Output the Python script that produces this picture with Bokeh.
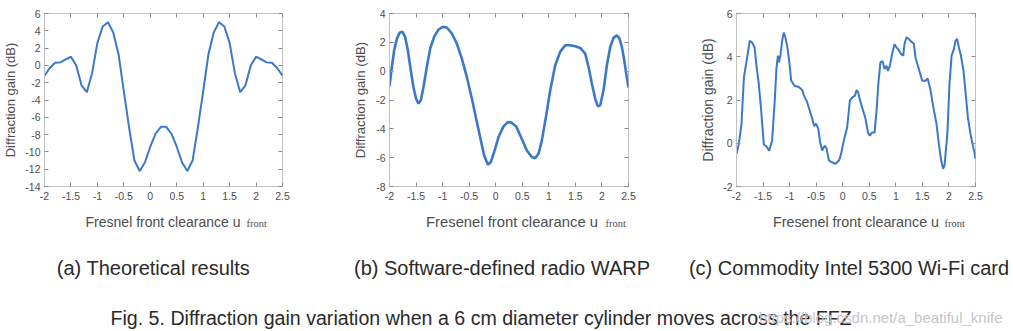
from bokeh.plotting import figure
from bokeh.models import Range1d, FixedTicker, LinearAxis, Label
from bokeh.layouts import column, row
from bokeh.embed import file_html
from bokeh.resources import INLINE

# ---------------- data ----------------
# (a) theoretical results
u_theory = [-2.0, -1.9, -1.8, -1.7, -1.6, -1.5, -1.4, -1.3, -1.2, -1.1, -1.0,
            -0.9, -0.8, -0.7, -0.6, -0.5, -0.4, -0.3, -0.2, -0.1, 0.0,
            0.1, 0.2, 0.3, 0.4, 0.5, 0.6, 0.7, 0.8, 0.9, 1.0,
            1.1, 1.2, 1.3, 1.4, 1.5, 1.6, 1.7, 1.8, 1.9, 2.0,
            2.1, 2.2, 2.3, 2.4, 2.5]
gain_theory = [-1.2, -0.3, 0.3, 0.35, 0.7, 1.0, 0.0, -2.3, -3.1, -0.9, 2.6,
               4.5, 5.0, 3.8, 1.3, -3.0, -7.2, -11.0, -12.2, -11.2, -9.4,
               -7.9, -7.1, -7.1, -7.9, -9.4, -11.2, -12.2, -11.0, -7.2, -3.0,
               1.3, 3.8, 5.0, 4.5, 2.6, -0.9, -3.1, -2.3, 0.0, 1.0,
               0.7, 0.35, 0.3, -0.3, -1.2]

# (b) software-defined radio WARP
u_warp = [-2.0, -1.956, -1.912, -1.86, -1.81, -1.755, -1.705, -1.655, -1.6, -1.55,
          -1.5, -1.454, -1.41, -1.36, -1.297, -1.234, -1.16, -1.077, -0.996, -0.92,
          -0.826, -0.732, -0.638, -0.544, -0.45, -0.355, -0.28, -0.217, -0.148, -0.092,
          -0.029, 0.053, 0.147, 0.229, 0.30, 0.385, 0.49, 0.586, 0.68, 0.743,
          0.806, 0.869, 0.95, 1.026, 1.12, 1.214, 1.308, 1.402, 1.497, 1.59,
          1.685, 1.748, 1.81, 1.873, 1.923, 1.967, 2.03, 2.093, 2.156, 2.218,
          2.28, 2.33, 2.375, 2.42, 2.457, 2.5]
gain_warp = [-1.05, 0.29, 1.45, 2.26, 2.66, 2.73, 2.38, 1.45, 0.06, -1.1,
             -1.9, -2.25, -2.02, -1.1, 0.29, 1.57, 2.38, 2.89, 3.07, 3.03,
             2.61, 1.91, 0.87, -0.4, -1.9, -3.53, -4.8, -5.85, -6.49, -6.3,
             -5.6, -4.57, -3.83, -3.53, -3.57, -3.83, -4.69, -5.5, -5.96, -6.03,
             -5.73, -4.8, -3.07, -1.33, 0.41, 1.34, 1.8, 1.8, 1.73, 1.61,
             1.22, 0.29, -0.86, -1.9, -2.44, -2.37, -1.33, 0.41, 1.68, 2.31,
             2.49, 2.26, 1.68, 0.76, -0.17, -1.14]

# (c) commodity Intel 5300 Wi-Fi card
u_intel = [-2.0, -1.956, -1.906, -1.86, -1.80, -1.75, -1.705, -1.66, -1.62, -1.58,
           -1.535, -1.485, -1.435, -1.385, -1.33, -1.28, -1.247, -1.22, -1.20, -1.17,
           -1.14, -1.11, -1.08, -1.046, -1.008, -0.97, -0.91, -0.826, -0.76, -0.73,
           -0.67, -0.62, -0.575, -0.54, -0.50, -0.46, -0.43, -0.387, -0.34, -0.305,
           -0.26, -0.2, -0.136, -0.07, -0.03, 0.02, 0.084, 0.134, 0.18, 0.23,
           0.26, 0.29, 0.335, 0.385, 0.43, 0.475, 0.51, 0.555, 0.6, 0.637,
           0.67, 0.71, 0.75, 0.787, 0.825, 0.85, 0.887, 0.93, 0.975, 1.013,
           1.057, 1.1, 1.14, 1.163, 1.2, 1.245, 1.29, 1.34, 1.37, 1.415,
           1.45, 1.497, 1.56, 1.6, 1.65, 1.685, 1.73, 1.766, 1.81, 1.854,
           1.89, 1.917, 1.97, 2.01, 2.05, 2.093, 2.124, 2.155, 2.187, 2.22,
           2.27, 2.31, 2.356, 2.406, 2.456, 2.48, 2.5]
gain_intel = [-0.49, -0.03, 0.89, 3.05, 3.97, 4.74, 4.66, 4.43, 3.5, 2.74,
              1.5, -0.06, -0.15, -0.35, 0.12, 1.97, 3.5, 4.05, 3.74, 4.12,
              4.74, 5.12, 4.9, 4.5, 3.8, 2.9, 2.66, 2.6, 2.45, 2.2,
              1.9, 1.5, 1.15, 0.8, 0.9, 0.66, 0.12, -0.34, -0.11, -0.23,
              -0.8, -0.88, -0.95, -0.8, -0.49, 0.12, 0.74, 1.97, 2.12, 2.2,
              2.46, 2.35, 1.9, 1.5, 1.12, 0.5, 0.35, 0.5, 0.5, 1.5,
              2.74, 3.74, 3.8, 3.43, 3.58, 3.35, 3.58, 4.12, 4.58, 4.43,
              4.3, 4.12, 4.05, 4.58, 4.9, 4.82, 4.7, 4.6, 3.97, 3.58,
              3.28, 2.89, 2.89, 3.0, 2.5, 1.97, 1.35, 0.9, -0.03, -0.8,
              -1.18, -1.03, 0.43, 2.74, 4.05, 4.35, 4.74, 4.82, 4.43, 4.12,
              3.43, 2.43, 1.2, 0.43, -0.18, -0.42, -0.72]

xtick_values = [-2, -1.5, -1, -0.5, 0, 0.5, 1, 1.5, 2, 2.5]
xtick_labels = ["-2", "-1.5", "-1", "-0.5", "0", "0.5", "1", "1.5", "2", "2.5"]
ytick_values_a = [-14, -12, -10, -8, -6, -4, -2, 0, 2, 4, 6]
ytick_labels_a = ["-14", "-12", "-10", "-8", "-6", "-4", "-2", "0", "2", "4", "6"]
ytick_values_b = [-8, -6, -4, -2, 0, 2, 4]
ytick_labels_b = ["-8", "-6", "-4", "-2", "0", "2", "4"]
ytick_values_c = [-2, 0, 2, 4, 6]
ytick_labels_c = ["-2", "0", "2", "4", "6"]

y_title = "Diffraction gain (dB)"
x_titles = ["Fresnel front clearance u", "Fresenel front clearance u",
            "Fresenel front clearance u"]
x_sub = "front"
captions = ["(a) Theoretical results", "(b) Software-defined radio WARP",
            "(c) Commodity Intel 5300 Wi-Fi card"]
fig_caption = "Fig. 5.  Diffraction gain variation when a 6 cm diameter cylinder moves across the FFZ"
watermark = "https://blog.csdn.net/a_beatiful_knife"

# ---------------- style ----------------
LINE = "#3b78c8"
TXT = "#4d4d4d"
BOX = "#c2c2c2"
FONT = "Liberation Sans"
TOP_H = 206


def panel(xs, ys, ylo, yhi, ytv, ytl, width, bl, br, lw, ylab_off, ylab_size):
    p = figure(width=width, height=TOP_H, x_range=Range1d(-2, 2.5),
               y_range=Range1d(ylo, yhi), min_border_left=bl, min_border_right=br,
               min_border_top=13, min_border_bottom=20,
               output_backend="svg", toolbar_location=None)
    p.grid.grid_line_color = None
    p.outline_line_color = BOX
    p.outline_line_width = 1
    p.background_fill_color = "white"
    p.border_fill_color = "white"
    p.line(xs, ys, line_color=LINE, line_width=lw)

    xa = p.xaxis[0]
    xa.ticker = FixedTicker(ticks=xtick_values)
    xa.major_label_overrides = dict(zip(xtick_values, xtick_labels))
    ya = p.yaxis[0]
    ya.ticker = FixedTicker(ticks=ytv)
    ya.major_label_overrides = dict(zip(ytv, ytl))
    for ax in (xa, ya):
        ax.axis_line_color = BOX
        ax.major_tick_line_color = "#8a8a8a"
        ax.major_tick_in = 4
        ax.major_tick_out = 0
        ax.minor_tick_line_color = None
        ax.major_label_text_font = FONT
        ax.major_label_text_font_size = "10.5px"
        ax.major_label_text_color = TXT
        ax.major_label_standoff = 4
        ax.axis_label_text_font = FONT
        ax.axis_label_text_font_style = "normal"
        ax.axis_label_text_color = TXT
    xa.major_label_standoff = 5
    ya.axis_label = y_title
    ya.axis_label_text_font_size = ylab_size
    ya.axis_label_standoff = ylab_off

    # box ticks on the top and right edges (no labels)
    for loc, tv in (("above", xtick_values), ("right", ytv)):
        ax = LinearAxis(ticker=FixedTicker(ticks=tv))
        ax.axis_line_color = None
        ax.major_tick_line_color = "#8a8a8a"
        ax.major_tick_in = 4
        ax.major_tick_out = 0
        ax.minor_tick_line_color = None
        ax.major_label_text_color = None
        ax.major_label_text_font_size = "1px"
        ax.major_label_standoff = 0
        p.add_layout(ax, loc)
    return p


p1 = panel(u_theory, gain_theory, -14, 6, ytick_values_a, ytick_labels_a,
           340, 43, 58, 2.0, 4, "13px")
p2 = panel(u_warp, gain_warp, -8, 4, ytick_values_b, ytick_labels_b,
           340, 49, 52, 2.6, 5, "13.2px")
p3 = panel(u_intel, gain_intel, -2, 6, ytick_values_c, ytick_labels_c,
           333, 56, 38, 2.0, 4, "14px")

# lower strip: x-axis titles (with subscript), sub-captions and figure caption
pc = figure(width=1013, height=331 - TOP_H, x_range=Range1d(0, 1013),
            y_range=Range1d(331, TOP_H), min_border=0,
            x_axis_location=None, y_axis_location=None,
            output_backend="svg", toolbar_location=None)
pc.grid.grid_line_color = None
pc.outline_line_color = None
pc.border_fill_color = "white"

for cx, sx, fs, txt in zip([162.5, 511.5, 855.5], [246, 605, 944],
                           ["14px", "14.8px", "14.3px"], x_titles):
    pc.add_layout(Label(x=cx, y=221, text=txt, text_font=FONT, text_font_size=fs,
                        text_color=TXT, text_align="center", text_baseline="alphabetic"))
    pc.add_layout(Label(x=sx, y=223, text=x_sub, text_font="Liberation Serif",
                        text_font_size="10.5px", text_color=TXT,
                        text_baseline="alphabetic"))

for cx, txt in zip([153, 501.5, 848.5], captions):
    pc.add_layout(Label(x=cx, y=267, text=txt, text_font=FONT, text_font_size="20px",
                        text_color="#2a2a2a", text_align="center",
                        text_baseline="alphabetic"))
pc.add_layout(Label(x=110, y=317, text=fig_caption, text_font=FONT,
                    text_font_size="19.6px", text_color="#2a2a2a",
                    text_baseline="alphabetic"))
pc.add_layout(Label(x=1002, y=317, text=watermark, text_font=FONT,
                    text_font_size="15px", text_color="#c6c6c6", text_align="right",
                    text_baseline="alphabetic"))

layout = column(row(p1, p2, p3), pc)
open("out.html", "w").write(file_html(layout, INLINE))
